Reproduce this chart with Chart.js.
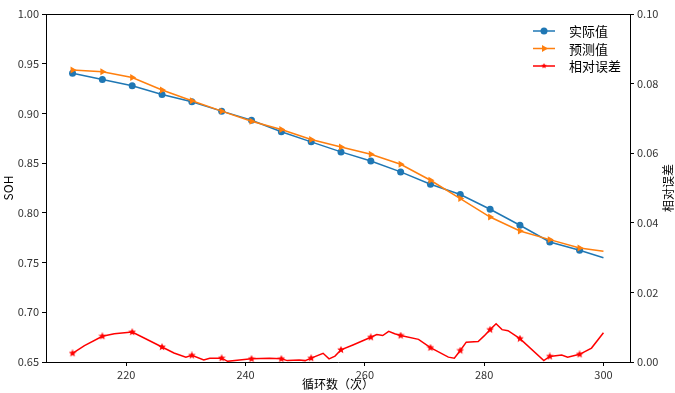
<!DOCTYPE html>
<html>
<head>
<meta charset="utf-8">
<script src="https://cdn.jsdelivr.net/npm/chart.js@4.4.1/dist/chart.umd.min.js"></script>
<style>
  html, body { margin: 0; padding: 0; background: #fff; }
</style>
</head>
<body>
<canvas id="sohChart" width="675" height="393"></canvas>
<script>
// marker cycles (every 5th cycle) plus the last cycle
const markCycles = [211, 216, 221, 226, 231, 236, 241, 246, 251, 256, 261, 266, 271, 276, 281, 286, 291, 296, 300]
const actualSOH = [0.9403, 0.9342, 0.9278, 0.9191, 0.9117, 0.9023, 0.8932, 0.8815, 0.8714, 0.8613, 0.8522, 0.8412, 0.8288, 0.8184, 0.8036, 0.7875, 0.7707, 0.7623, 0.7549]
const predictedSOH = [0.9436, 0.9419, 0.9362, 0.9235, 0.9127, 0.9023, 0.8922, 0.8839, 0.8738, 0.8663, 0.8590, 0.8489, 0.8328, 0.8144, 0.7958, 0.7817, 0.7731, 0.7646, 0.7613]

const errCycles = [211, 213, 216, 218, 221, 223, 226, 228, 230, 231, 233, 234, 236, 237, 239, 241, 244, 246, 247, 249, 250, 251, 253, 254, 255, 256, 258, 261, 262, 263, 264, 265, 266, 269, 271, 274, 275, 276, 277, 279, 280, 281, 282, 283, 284, 286, 290, 291, 293, 294, 296, 298, 300]
const relError = [0.0025, 0.0047, 0.0074, 0.0081, 0.0086, 0.0069, 0.0043, 0.0026, 0.0014, 0.0019, 0.0006, 0.0011, 0.0011, 0.0002, 0.0006, 0.0009, 0.0011, 0.0009, 0.0004, 0.0006, 0.0004, 0.0011, 0.0025, 0.0009, 0.0017, 0.0035, 0.0049, 0.0071, 0.0079, 0.0076, 0.0088, 0.0081, 0.0076, 0.0065, 0.0041, 0.0014, 0.0011, 0.0033, 0.0057, 0.0059, 0.0075, 0.0093, 0.0110, 0.0093, 0.0090, 0.0067, 0.0004, 0.0016, 0.0020, 0.0014, 0.0022, 0.0040, 0.0084]

const xTicks = [220, 240, 260, 280, 300]
const sohTicks = [0.65, 0.70, 0.75, 0.80, 0.85, 0.90, 0.95, 1.00]
const errTicks = [0, 0.02, 0.04, 0.06, 0.08, 0.10]

const BLUE = "#1f77b4"
const ORANGE = "#ff7f0e"
const RED = "#ff0000"
const FONT = '"Noto Sans CJK SC", "DejaVu Sans", sans-serif'

// filled star marker like matplotlib "*"
function makeStar(size, color) {
    const c = document.createElement("canvas")
    c.width = size
    c.height = size
    const g = c.getContext("2d")
    const R = size / 2, r = R * 0.45
    g.beginPath()
    for (let i = 0; i < 10; i++) {
        const rad = (i % 2 === 0 ? R : r)
        const a = -Math.PI / 2 + i * Math.PI / 5
        const px = R + rad * Math.cos(a), py = R + rad * Math.sin(a)
        i === 0 ? g.moveTo(px, py) : g.lineTo(px, py)
    }
    g.closePath()
    g.fillStyle = color
    g.fill()
    return c
}
const starImg = makeStar(8, RED)

const isMark = c => (c.raw.x - 211) % 5 === 0 && c.raw.x < 300

const toXY = (xs, ys) => xs.map((x, i) => ({ x: x, y: ys[i] }))

// legend inside the plot, top right, plus top frame line and right axis title
const extras = {
    id: "extras",
    afterDraw(chart) {
        const { ctx, chartArea } = chart
        ctx.save()
        ctx.strokeStyle = "#000"
        ctx.lineWidth = 1
        ctx.beginPath()
        ctx.moveTo(chartArea.left, Math.round(chartArea.top) + 0.5)
        ctx.lineTo(chartArea.right, Math.round(chartArea.top) + 0.5)
        ctx.stroke()

        // right axis title
        ctx.fillStyle = "#000"
        ctx.font = "12px " + FONT
        ctx.textAlign = "center"
        ctx.textBaseline = "middle"
        ctx.translate(668, (chartArea.top + chartArea.bottom) / 2)
        ctx.rotate(-Math.PI / 2)
        ctx.fillText("相对误差", 0, 0)
        ctx.restore()

        const names = ["实际值", "预测值", "相对误差"]
        const colors = [BLUE, ORANGE, RED]
        const x0 = chartArea.right - 97
        names.forEach((name, i) => {
            const y = chartArea.top + 17 + i * 17.5
            ctx.save()
            ctx.strokeStyle = colors[i]
            ctx.fillStyle = colors[i]
            ctx.lineWidth = 1.5
            ctx.beginPath()
            ctx.moveTo(x0, y)
            ctx.lineTo(x0 + 22, y)
            ctx.stroke()
            const mx = x0 + 11
            if (i === 0) {
                ctx.beginPath()
                ctx.arc(mx, y, 3.5, 0, Math.PI * 2)
                ctx.fill()
            } else if (i === 1) {
                ctx.beginPath()
                ctx.moveTo(mx + 4, y)
                ctx.lineTo(mx - 2, y - 3.5)
                ctx.lineTo(mx - 2, y + 3.5)
                ctx.closePath()
                ctx.fill()
            } else {
                ctx.drawImage(starImg, mx - 3, y - 3, 6, 6)
            }
            ctx.fillStyle = "#000"
            ctx.font = "13px " + FONT
            ctx.textBaseline = "middle"
            ctx.fillText(name, x0 + 36, y + 0.5)
            ctx.restore()
        })
    }
}

const tickFont = { family: FONT, size: 11 }
const axisGrid = { drawOnChartArea: false, drawTicks: true, tickLength: 4, tickColor: "#000" }

const ctx = document.getElementById("sohChart")

new Chart(ctx, {
    type: "line",
    data: {
        datasets: [{
            label: "实际值",
            data: toXY(markCycles, actualSOH),
            yAxisID: "y",
            borderColor: BLUE,
            backgroundColor: BLUE,
            borderWidth: 1.5,
            pointStyle: "circle",
            pointRadius: c => c.raw.x < 300 ? 3.5 : 0,
            pointBorderWidth: 0,
            order: 3
        }, {
            label: "预测值",
            data: toXY(markCycles, predictedSOH),
            yAxisID: "y",
            borderColor: ORANGE,
            backgroundColor: ORANGE,
            borderWidth: 1.5,
            pointStyle: "triangle",
            rotation: 90,
            pointRadius: c => c.raw.x < 300 ? 4 : 0,
            pointBorderWidth: 0,
            order: 2
        }, {
            label: "相对误差",
            data: toXY(errCycles, relError),
            yAxisID: "y2",
            borderColor: RED,
            backgroundColor: RED,
            borderWidth: 1.5,
            pointStyle: c => isMark(c) ? starImg : false,
            pointRadius: c => isMark(c) ? 3 : 0,
            order: 1
        }]
    },
    options: {
        responsive: false,
        animation: false,
        events: [],
        layout: { padding: { top: 14, left: 0, right: 0, bottom: 0 } },
        plugins: { legend: { display: false }, tooltip: { enabled: false } },
        scales: {
            x: {
                type: "linear",
                min: 206.55,
                max: 304.45,
                afterBuildTicks: s => { s.ticks = xTicks.map(v => ({ value: v })) },
                afterFit: s => { s.height = 31 },
                border: { color: "#000", width: 1 },
                grid: axisGrid,
                ticks: { color: "#333", font: tickFont, padding: 2, maxRotation: 0, autoSkip: false },
                title: { display: true, text: "循环数（次）", color: "#000", font: { family: FONT, size: 12 }, padding: { top: 0, bottom: 1 } }
            },
            y: {
                position: "left",
                min: 0.65,
                max: 1.00,
                afterBuildTicks: s => { s.ticks = sohTicks.map(v => ({ value: v })) },
                afterFit: s => { s.width = 46 },
                border: { color: "#000", width: 1 },
                grid: axisGrid,
                ticks: { color: "#333", font: tickFont, padding: 3, callback: v => v.toFixed(2) },
                title: { display: true, text: "SOH", color: "#000", font: { family: FONT, size: 12 }, padding: { top: 1, bottom: 0 } }
            },
            y2: {
                position: "right",
                min: 0,
                max: 0.10,
                afterBuildTicks: s => { s.ticks = errTicks.map(v => ({ value: v })) },
                afterFit: s => { s.width = 45 },
                border: { color: "#000", width: 1 },
                grid: axisGrid,
                ticks: { color: "#333", font: tickFont, padding: 3, callback: v => v.toFixed(2) }
            }
        }
    },
    plugins: [extras]
})
</script>
</body>
</html>
